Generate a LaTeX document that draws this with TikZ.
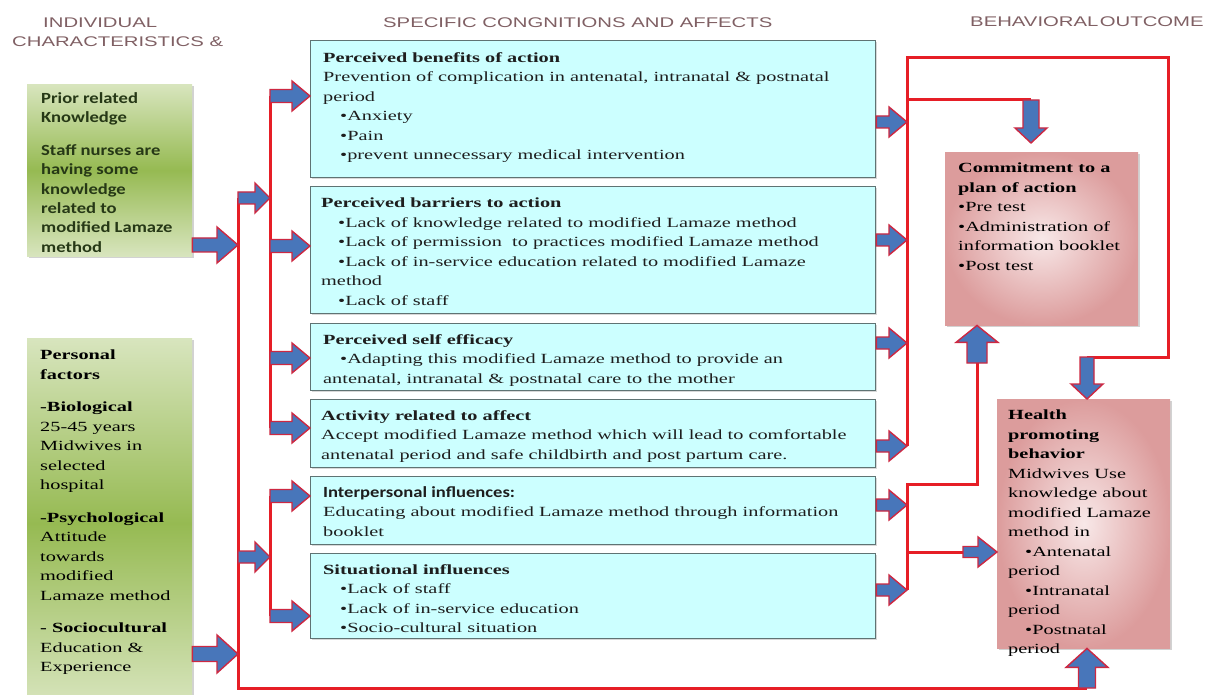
\documentclass[tikz,border=0pt]{standalone}
\usepackage{fontspec}
\setmainfont{Liberation Serif}[FakeStretch=1.45]
\newfontfamily\hdfont{Liberation Sans}[FakeStretch=1.45]
\newfontfamily\calfont{Carlito}[FakeStretch=1.2]
\usetikzlibrary{calc,shadows}
\definecolor{lnred}{RGB}{230,30,38}
\definecolor{arblue}{RGB}{72,118,186}
\definecolor{arred}{RGB}{205,40,66}
\definecolor{cyanfill}{RGB}{204,255,255}
\definecolor{cyanedge}{RGB}{95,115,115}
\definecolor{hdcol}{RGB}{128,96,100}
\definecolor{gLight}{RGB}{216,229,190}
\definecolor{gMid}{RGB}{150,186,82}
\definecolor{pLight}{RGB}{248,232,232}
\definecolor{pDark}{RGB}{220,156,156}
\definecolor{txtgreen}{RGB}{38,56,22}
\definecolor{txtdark}{RGB}{30,30,30}
\begin{document}
\begin{tikzpicture}[x=1pt,y=-1pt,
  hd/.style={font=\hdfont\fontsize{14}{17}\selectfont, text=hdcol, inner sep=0, anchor=west},
  cbox/.style={rectangle, draw=cyanedge, line width=1.3pt, fill=cyanfill, inner sep=0, anchor=north west, minimum width=565pt,
    drop shadow={shadow xshift=1.5pt, shadow yshift=-1.5pt, opacity=0.3}},
  gbox/.style={rectangle, inner sep=0, anchor=north west, minimum width=165pt,
    top color=gLight, bottom color=gLight, middle color=gMid,
    drop shadow={shadow xshift=2pt, shadow yshift=-2pt, opacity=0.35}},
  pbox/.style={rectangle, inner sep=0, anchor=north west, inner color=pLight, outer color=pDark,
    drop shadow={shadow xshift=2pt, shadow yshift=-2pt, opacity=0.35}},
  txt/.style={anchor=north west, inner sep=0, align=left, font=\fontsize{14}{19.5}\selectfont, text=txtdark},
  redline/.style={draw=lnred, line width=3pt, line join=miter},
  arrbase/.style={draw=arred, fill=arblue, line width=1.4pt, line join=miter,
    to path={let \p1=(\tikztostart), \p2=(\tikztotarget), \n1={atan2(\y2-\y1,\x2-\x1)} in
      ($(\p1)+(\n1+90:\bsw)$) -- ($(\p2)+(\n1+180:\bhl)+(\n1+90:\bsw)$)
      -- ($(\p2)+(\n1+180:\bhl)+(\n1+90:\bhw)$) -- (\p2)
      -- ($(\p2)+(\n1+180:\bhl)+(\n1-90:\bhw)$) -- ($(\p2)+(\n1+180:\bhl)+(\n1-90:\bsw)$)
      -- ($(\p1)+(\n1-90:\bsw)$) -- cycle}},
  barr/.style n args={3}{arrbase, /utils/exec={\def\bsw{#1}\def\bhw{#2}\def\bhl{#3}}}
]
\fill[white] (0,0) rectangle (1208,695);
\useasboundingbox (0,0) rectangle (1208,695);

% headers
\node[hd] (hdA) at (43,23) {INDIVIDUAL};
\node[hd] (hdB) at (12,42) {CHARACTERISTICS \&};
\node[hd] (hdC) at (383,23) {SPECIFIC CONGNITIONS AND AFFECTS};
\node[hd] (hdD) at (970,22) {BEHAVIORAL\hspace{1.5pt}OUTCOME};

% boxes
\node[gbox, minimum height=172pt] (g1) at (27,84) {};
\node[gbox, minimum height=370pt] (g2) at (27,338) {};
\node[cbox, minimum height=137pt] (b1) at (310,40) {};
\node[cbox, minimum height=127pt] (b2) at (310,186) {};
\node[cbox, minimum height=67pt] (b3) at (310,323) {};
\node[cbox, minimum height=68pt] (b4) at (310,399) {};
\node[cbox, minimum height=68pt] (b5) at (310,476) {};
\node[cbox, minimum height=85pt] (b6) at (310,553) {};
\node[pbox, minimum width=193pt, minimum height=173pt] (c) at (945,152) {};
\node[pbox, minimum width=173pt, minimum height=249pt] (h) at (997,399) {};

% junction coordinates
\coordinate (jg1) at (238,245);
\coordinate (jg2) at (238,654);
\coordinate (L1t) at (238,198);
\coordinate (jL12) at (270,198);
\coordinate (jL1m) at (238,557);
\coordinate (jL13) at (270,557);
\coordinate (L1b) at (238,688);
\coordinate (Hb) at (1087,688);
\coordinate (L2t) at (270,96);
\coordinate (jb2) at (270,246);
\coordinate (jb3) at (270,358);
\coordinate (L2b) at (270,428);
\coordinate (L3t) at (270,496);
\coordinate (L3b) at (270,616);
\coordinate (R1t) at (907,58);
\coordinate (R1c1) at (1168,58);
\coordinate (R1c2) at (1168,357);
\coordinate (R1h) at (1087,357);
\coordinate (R1j) at (907,100);
\coordinate (Cj) at (1031,100);
\coordinate (Ctip) at (1031,143);
\coordinate (jr1) at (907,122);
\coordinate (jr2) at (907,240);
\coordinate (jr3) at (907,343);
\coordinate (R1b) at (907,446);
\coordinate (R2t) at (907,484);
\coordinate (jr5) at (907,505);
\coordinate (R2b) at (907,590);
\coordinate (R2c) at (977,484);
\coordinate (R2u) at (977,363);
\coordinate (R2m) at (907,552);
\coordinate (R2a) at (963,552);

% red lines
\draw[redline] (L1t) -- (L1b) -- (Hb);
\draw[redline] (L2t) -- (L2b);
\draw[redline] (L3t) -- (L3b);
\draw[redline] (R1b) -- (R1t) -- (R1c1) -- (R1c2) -- (R1h);
\draw[redline] (R1j) -- (Cj);
\draw[redline] (R2b) -- (R2t) -- (R2c) -- (R2u);
\draw[redline] (R2m) -- (R2a);

% block arrows
\draw[barr={7pt}{18pt}{21pt}] (g1.east |- jg1) to (jg1);
\draw[barr={7.5pt}{19pt}{21pt}] (g2.east |- jg2) to (jg2);
\draw[barr={6pt}{15pt}{15pt}] (L1t) to (jL12);
\draw[barr={6pt}{15pt}{15pt}] (jL1m) to (jL13);
\draw[barr={6.5pt}{15pt}{18pt}] (L2t) to (b1.west |- L2t);
\draw[barr={6.5pt}{15pt}{18pt}] (jb2) to (b2.west |- jb2);
\draw[barr={6.5pt}{15pt}{18pt}] (jb3) to (b3.west |- jb3);
\draw[barr={6.5pt}{15pt}{18pt}] (L2b) to (b4.west |- L2b);
\draw[barr={6.5pt}{15pt}{18pt}] (L3t) to (b5.west |- L3t);
\draw[barr={6.5pt}{15pt}{18pt}] (L3b) to (b6.west |- L3b);
\draw[barr={6pt}{15pt}{18pt}] (b1.east |- jr1) to (jr1);
\draw[barr={6pt}{15pt}{18pt}] (b2.east |- jr2) to (jr2);
\draw[barr={6pt}{15pt}{18pt}] (b3.east |- jr3) to (jr3);
\draw[barr={6pt}{15pt}{18pt}] (b4.east |- R1b) to (R1b);
\draw[barr={6pt}{15pt}{18pt}] (b5.east |- jr5) to (jr5);
\draw[barr={6pt}{15pt}{18pt}] (b6.east |- R2b) to (R2b);
\draw[barr={8pt}{16pt}{15pt}] (Cj) to (Ctip);
\draw[barr={10pt}{21pt}{17pt}] (R2u) to (c.south -| R2u);
\draw[barr={7pt}{16pt}{15pt}] (R1h) to (h.north -| R1h);
\draw[barr={5.5pt}{15pt}{19pt}] (R2a) to (h.west |- R2a);
\draw[barr={8.5pt}{21pt}{19pt}] (Hb) to (h.south -| Hb);

% texts
\node[txt, font=\calfont\bfseries\fontsize{15.5}{19.3}\selectfont, text=txtgreen] (tg1) at ($(g1.north west)+(14,8)$)
 {Prior related\\Knowledge\\[14pt]Staff nurses are\\having some\\knowledge\\related to\\modified Lamaze\\method};
\node[txt, text=black] (tg2) at ($(g2.north west)+(13,12)$)
 {\textbf{Personal}\\\textbf{factors}\\[13pt]\textbf{-Biological}\\25-45 years\\Midwives in\\selected\\hospital\\[13pt]\textbf{-Psychological}\\Attitude\\towards\\modified\\Lamaze method\\[13pt]\textbf{- Sociocultural}\\Education \&\\Experience};
\node[txt] (t1) at ($(b1.north west)+(13,12)$)
 {\textbf{Perceived benefits of action}\\
  Prevention of complication in antenatal, intranatal \& postnatal\\
  period\\
  \hspace*{17pt}•Anxiety\\
  \hspace*{17pt}•Pain\\
  \hspace*{17pt}•prevent unnecessary medical intervention};
\node[txt] (t2) at ($(b2.north west)+(11,12)$)
 {\textbf{Perceived barriers to action}\\
  \hspace*{17pt}•Lack of knowledge related to modified Lamaze method\\
  \hspace*{17pt}•Lack of permission\ \ to practices modified Lamaze method\\
  \hspace*{17pt}•Lack of in-service education related to modified Lamaze\\
  method\\
  \hspace*{17pt}•Lack of staff};
\node[txt] (t3) at ($(b3.north west)+(13,11)$)
 {\textbf{Perceived self efficacy}\\
  \hspace*{17pt}•Adapting this modified Lamaze method to provide an\\
  antenatal, intranatal \& postnatal care to the mother};
\node[txt] (t4) at ($(b4.north west)+(11,11)$)
 {\textbf{Activity related to affect}\\
  Accept modified Lamaze method which will lead to comfortable\\
  antenatal period and safe childbirth and post partum care.};
\node[txt] (t5) at ($(b5.north west)+(13,10)$)
 {{\calfont\bfseries\fontsize{15.5}{19.5}\selectfont Interpersonal influences:}\\
  Educating about modified Lamaze method through information\\
  booklet};
\node[txt] (t6) at ($(b6.north west)+(13,11)$)
 {\textbf{Situational influences}\\
  \hspace*{17pt}•Lack of staff\\
  \hspace*{17pt}•Lack of in-service education\\
  \hspace*{17pt}•Socio-cultural situation};
\node[txt, text=black] (tc) at ($(c.north west)+(13,11)$)
 {\textbf{Commitment to a}\\\textbf{plan of action}\\•Pre test\\•Administration of\\information booklet\\•Post test};
\node[txt, text=black] (th) at ($(h.north west)+(11,11)$)
 {\textbf{Health}\\\textbf{promoting}\\\textbf{behavior}\\Midwives Use\\knowledge about\\modified Lamaze\\method in\\
  \hspace*{17pt}•Antenatal\\period\\\hspace*{17pt}•Intranatal\\period\\\hspace*{17pt}•Postnatal\\period};
\end{tikzpicture}
\end{document}
